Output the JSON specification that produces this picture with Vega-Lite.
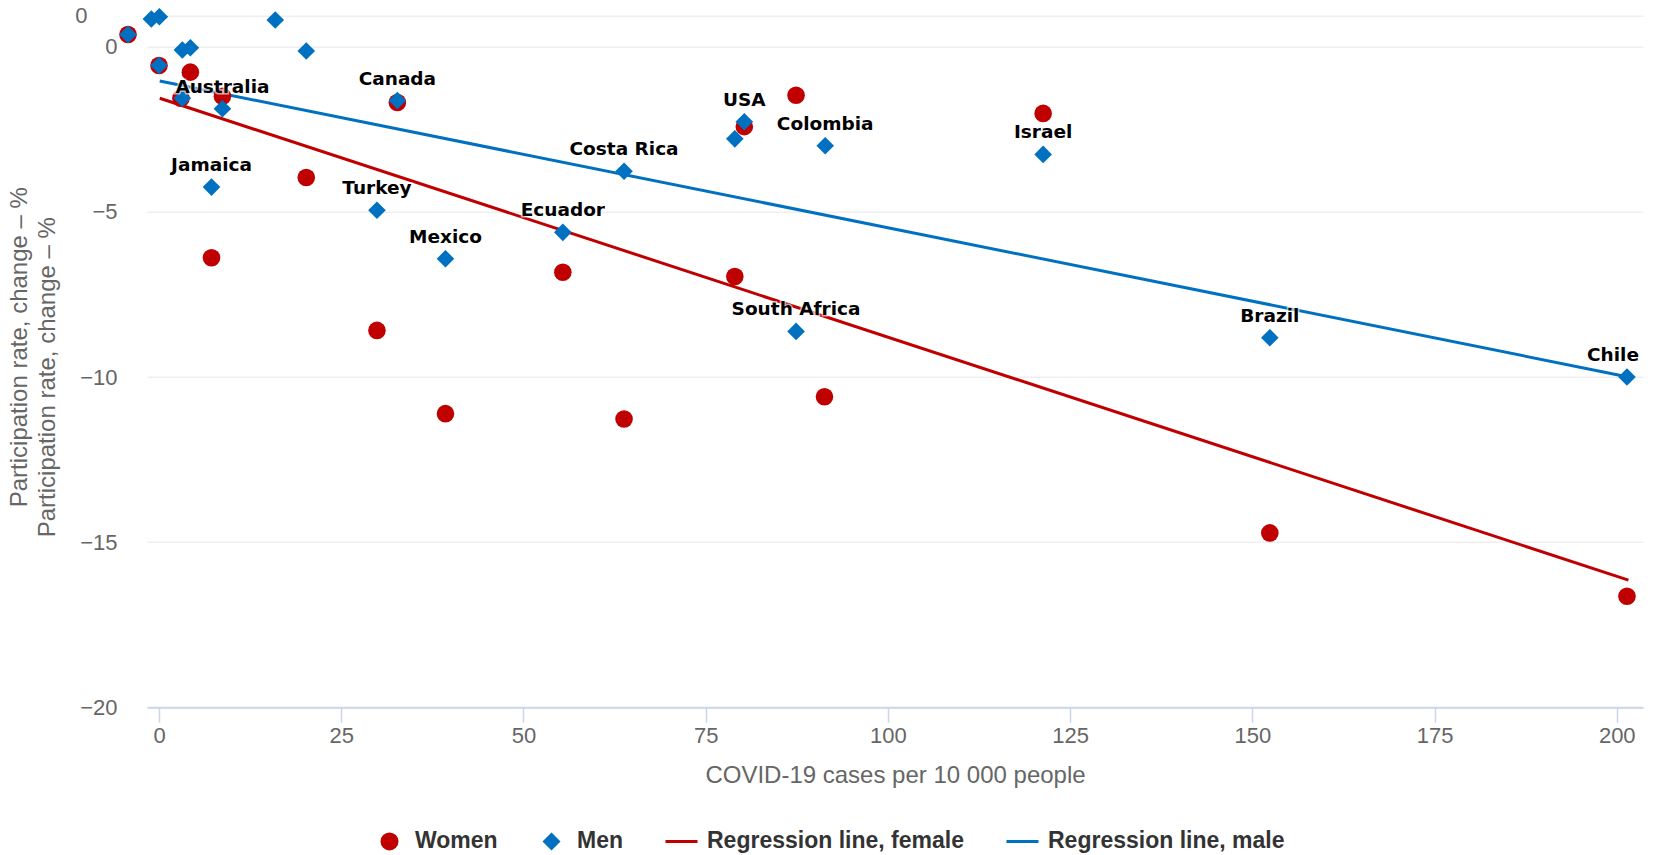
{
  "$schema": "https://vega.github.io/schema/vega-lite/v6.json",
  "width": 1496,
  "height": 660.6,
  "autosize": {"type": "none"},
  "padding": {"left": 147, "top": 46.7, "right": 11, "bottom": 147.7},
  "background": "#ffffff",
  "config": {
    "view": {"stroke": null},
    "font": "Liberation Sans"
  },
  "resolve": {"axis": {"y": "independent"}},
  "datasets": {
    "pts": [
      {"series": "Women", "cases": 0.0, "change": -0.57, "country": null},
      {"series": "Women", "cases": 4.3, "change": -0.77, "country": null},
      {"series": "Women", "cases": 3.0, "change": -1.56, "country": null},
      {"series": "Women", "cases": 8.7, "change": -1.5, "country": "Australia"},
      {"series": "Women", "cases": 32.7, "change": -1.69, "country": "Canada"},
      {"series": "Women", "cases": 20.2, "change": -3.96, "country": null},
      {"series": "Women", "cases": 7.2, "change": -6.39, "country": "Jamaica"},
      {"series": "Women", "cases": 29.9, "change": -8.59, "country": "Turkey"},
      {"series": "Women", "cases": 39.3, "change": -11.11, "country": "Mexico"},
      {"series": "Women", "cases": 55.4, "change": -6.83, "country": "Ecuador"},
      {"series": "Women", "cases": 63.8, "change": -11.27, "country": "Costa Rica"},
      {"series": "Women", "cases": 79.0, "change": -6.96, "country": null},
      {"series": "Women", "cases": 80.3, "change": -2.42, "country": "USA"},
      {"series": "Women", "cases": 87.4, "change": -1.47, "country": "South Africa"},
      {"series": "Women", "cases": 91.3, "change": -10.6, "country": "Colombia"},
      {"series": "Women", "cases": 121.3, "change": -2.02, "country": "Israel"},
      {"series": "Women", "cases": 152.4, "change": -14.72, "country": "Brazil"},
      {"series": "Women", "cases": 201.4, "change": -16.64, "country": "Chile"},
      {"series": "Men", "cases": 0.0, "change": -0.57, "country": null},
      {"series": "Men", "cases": 3.2, "change": -0.1, "country": null},
      {"series": "Men", "cases": 4.3, "change": -0.03, "country": null},
      {"series": "Men", "cases": 20.2, "change": -0.13, "country": null},
      {"series": "Men", "cases": 3.2, "change": -1.56, "country": null},
      {"series": "Men", "cases": 8.7, "change": -1.88, "country": "Australia"},
      {"series": "Men", "cases": 32.7, "change": -1.63, "country": "Canada"},
      {"series": "Men", "cases": 7.2, "change": -4.25, "country": "Jamaica"},
      {"series": "Men", "cases": 29.9, "change": -4.95, "country": "Turkey"},
      {"series": "Men", "cases": 39.3, "change": -6.42, "country": "Mexico"},
      {"series": "Men", "cases": 55.4, "change": -5.62, "country": "Ecuador"},
      {"series": "Men", "cases": 63.8, "change": -3.77, "country": "Costa Rica"},
      {"series": "Men", "cases": 79.0, "change": -2.79, "country": null},
      {"series": "Men", "cases": 80.3, "change": -2.27, "country": "USA"},
      {"series": "Men", "cases": 91.4, "change": -3.0, "country": "Colombia"},
      {"series": "Men", "cases": 87.4, "change": -8.62, "country": "South Africa"},
      {"series": "Men", "cases": 121.3, "change": -3.26, "country": "Israel"},
      {"series": "Men", "cases": 152.4, "change": -8.81, "country": "Brazil"},
      {"series": "Men", "cases": 201.4, "change": -10.0, "country": "Chile"}
    ],
    "reg": [
      {"series": "Regression line, female", "cases": 0.1, "change": -1.56},
      {"series": "Regression line, female", "cases": 201.6, "change": -16.15},
      {"series": "Regression line, male", "cases": 0.1, "change": -1.04},
      {"series": "Regression line, male", "cases": 201.4, "change": -9.99}
    ]
  },
  "encoding": {
    "x": {
      "field": "cases",
      "type": "quantitative",
      "scale": {"domain": [-1.65, 203.6], "nice": false, "zero": false},
      "axis": {
        "values": [0, 25, 50, 75, 100, 125, 150, 175, 200],
        "title": "COVID-19 cases per 10 000 people",
        "grid": false,
        "domainColor": "#ccd6eb",
        "domainWidth": 2,
        "tickColor": "#ccd6eb",
        "tickWidth": 1.5,
        "tickSize": 15,
        "labelFontSize": 22,
        "labelColor": "#666666",
        "labelPadding": 3,
        "titleFontSize": 24,
        "titleFontWeight": "normal",
        "titleColor": "#666666",
        "titlePadding": 17
      }
    },
    "color": {
      "field": "series",
      "type": "nominal",
      "scale": {
        "domain": ["Women", "Men", "Regression line, female", "Regression line, male"],
        "range": ["#c00000", "#0070c0", "#c00000", "#0070c0"]
      },
      "legend": {
        "title": null,
        "orient": "none",
        "legendX": 231,
        "legendY": 783,
        "direction": "horizontal",
        "columns": 4,
        "columnPadding": 42,
        "labelFontSize": 23,
        "labelFontWeight": "bold",
        "labelColor": "#333333",
        "labelOffset": 14,
        "labelLimit": 0,
        "symbolSize": 324,
        "symbolStrokeWidth": 0,
        "symbolOpacity": 1
      }
    }
  },
  "layer": [
    {
      "data": {"name": "reg"},
      "mark": {"type": "line", "strokeWidth": 3, "clip": false},
      "encoding": {
        "detail": {"field": "series"},
        "y": {
          "field": "change",
          "type": "quantitative",
          "scale": {"domain": [-20, 0], "nice": false},
          "axis": {
            "orient": "left",
            "values": [0],
            "tickOffset": -31,
            "grid": true,
            "gridColor": "#e6e6e6",
            "domain": false,
            "ticks": false,
            "labelFontSize": 22,
            "labelColor": "#666666",
            "labelPadding": 60,
            "title": "Participation rate, change – %",
            "titleFontSize": 24,
            "titleFontWeight": "normal",
            "titleColor": "#666666",
            "titleX": -128,
            "titleY": 300,
            "titleAlign": "center",
            "titleBaseline": "middle",
            "zindex": 0
          }
        }
      }
    },
    {
      "data": {"name": "pts"},
      "transform": [{"filter": "datum.change > -0.6"}],
      "mark": {"type": "point", "filled": true, "opacity": 1, "size": 310, "clip": false, "xOffset": -31, "yOffset": -31},
      "encoding": {
        "y": {"field": "change", "type": "quantitative", "axis": null},
        "shape": {"field": "series", "type": "nominal"}
      }
    },
    {
      "data": {"name": "pts"},
      "mark": {"type": "point", "filled": true, "opacity": 1, "size": 310, "clip": false},
      "encoding": {
        "y": {
          "field": "change",
          "type": "quantitative",
          "scale": {"domain": [-20, 0], "nice": false},
          "axis": {
            "orient": "left",
            "values": [-20, -15, -10, -5, 0],
            "title": "Participation rate, change – %",
            "grid": true,
            "gridColor": "#e6e6e6",
            "domain": false,
            "ticks": false,
            "labelFontSize": 22,
            "labelColor": "#666666",
            "labelPadding": 30,
            "titleFontSize": 24,
            "titleFontWeight": "normal",
            "titleColor": "#666666",
            "titleX": -100,
            "titleY": 330,
            "titleAlign": "center",
            "titleBaseline": "middle"
          }
        },
        "shape": {
          "field": "series",
          "type": "nominal",
          "scale": {
            "domain": ["Women", "Men", "Regression line, female", "Regression line, male"],
            "range": ["circle", "diamond", "M-1.78,-0.17H1.78V0.17H-1.78Z", "M-1.78,-0.17H1.78V0.17H-1.78Z"]
          },
          "legend": {
            "title": null,
            "orient": "none",
            "legendX": 231,
            "legendY": 783,
            "direction": "horizontal",
            "columns": 4,
            "columnPadding": 42,
            "labelFontSize": 23,
            "labelFontWeight": "bold",
            "labelColor": "#333333",
            "labelOffset": 14,
            "labelLimit": 0,
            "symbolSize": 324,
            "symbolStrokeWidth": 0,
            "symbolOpacity": 1
          }
        }
      }
    },
    {
      "data": {"name": "pts"},
      "transform": [
        {"filter": "datum.series === 'Men' && datum.country != null && datum.country !== 'Chile'"}
      ],
      "mark": {"type": "text", "font": "DejaVu Sans", "fontWeight": "bold", "fontSize": 18.5, "dy": -22, "stroke": "#ffffff", "strokeWidth": 3, "strokeOpacity": 0.6, "clip": false},
      "encoding": {
        "y": {"field": "change", "type": "quantitative", "axis": null},
        "text": {"field": "country"}, "color": {"value": "#ffffff"}}
    },
    {
      "data": {"name": "pts"},
      "transform": [
        {"filter": "datum.series === 'Men' && datum.country != null && datum.country !== 'Chile'"}
      ],
      "mark": {"type": "text", "font": "DejaVu Sans", "fontWeight": "bold", "fontSize": 18.5, "dy": -22, "clip": false},
      "encoding": {
        "y": {"field": "change", "type": "quantitative", "axis": null},
        "text": {"field": "country"}, "color": {"value": "#000000"}}
    },
    {
      "data": {"name": "pts"},
      "transform": [
        {"filter": "datum.series === 'Men' && datum.country === 'Chile'"}
      ],
      "mark": {"type": "text", "font": "DejaVu Sans", "fontWeight": "bold", "fontSize": 18.5, "dy": -22, "dx": -14, "stroke": "#ffffff", "strokeWidth": 3, "strokeOpacity": 0.6, "clip": false},
      "encoding": {
        "y": {"field": "change", "type": "quantitative", "axis": null},
        "text": {"field": "country"}, "color": {"value": "#ffffff"}}
    },
    {
      "data": {"name": "pts"},
      "transform": [
        {"filter": "datum.series === 'Men' && datum.country === 'Chile'"}
      ],
      "mark": {"type": "text", "font": "DejaVu Sans", "fontWeight": "bold", "fontSize": 18.5, "dy": -22, "dx": -14, "clip": false},
      "encoding": {
        "y": {"field": "change", "type": "quantitative", "axis": null},
        "text": {"field": "country"}, "color": {"value": "#000000"}}
    }
  ]
}
